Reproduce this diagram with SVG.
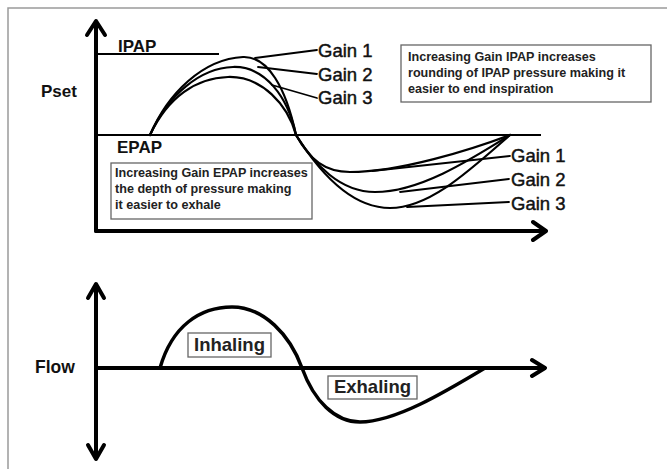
<svg xmlns="http://www.w3.org/2000/svg" width="667" height="469" viewBox="0 0 667 469">
<defs>
<style>
.frame{fill:none;stroke:#9a9a9a;stroke-width:1.5}
.axis{fill:none;stroke:#000;stroke-width:4;stroke-linecap:round;stroke-linejoin:round}
.lvl{fill:none;stroke:#000;stroke-width:2}
.crv{fill:none;stroke:#000;stroke-width:2.2;stroke-linecap:round}
.flow{fill:none;stroke:#000;stroke-width:3.5;stroke-linecap:round}
.lead{fill:none;stroke:#000;stroke-width:1.8;stroke-linecap:round}
.box{fill:#fff;stroke:#666;stroke-width:1.3}
.lbl{font-family:"Liberation Sans",Arial,sans-serif;font-weight:bold;font-size:17px;fill:#111}
.gain{font-family:"Liberation Sans",Arial,sans-serif;font-size:18.5px;fill:#111;stroke:#111;stroke-width:0.45}
.note{font-family:"Liberation Sans",Arial,sans-serif;font-weight:bold;font-size:12.6px;fill:#222}
.big{font-family:"Liberation Sans",Arial,sans-serif;font-weight:bold;font-size:18.5px;fill:#222}
</style>
</defs>
<rect width="667" height="469" fill="#fff"/>
<path class="frame" d="M8,469 V8 H667"/>

<g id="pressure-axes">
<path class="axis" d="M96,231 V22 M87,35 L96,21 L105,35"/>
<path class="axis" d="M96,231 H545 M533,222 L546,231 L533,240"/>
<path class="lvl" d="M96,54 H219"/>
<path class="lvl" d="M96,135 H541"/>
</g>

<g id="pressure-curves">
<path class="crv" d="M150,135 C168,93 203,59 243,57 C268,56 286,88 296,135"/>
<path class="crv" d="M150,135 C168,95 200,68 233,67 C265,66 288,97 296,135"/>
<path class="crv" d="M150,135 C168,97 196,78 228,77 C262,76 288,105 296,135"/>
<path class="crv" d="M296,135 C310,160 325,172 350,172 C400,172 470,150 510,135"/>
<path class="crv" d="M296,135 C315,165 340,192 375,192 C420,192 470,160 510,135"/>
<path class="crv" d="M296,135 C318,170 350,208 390,208 C430,208 470,170 510,135"/>
</g>

<g id="connectors">
<line class="lead" x1="255" y1="58" x2="317" y2="50"/>
<line class="lead" x1="258" y1="67" x2="317" y2="74"/>
<line class="lead" x1="272" y1="85" x2="317" y2="98"/>
<line class="lead" x1="372" y1="171" x2="510" y2="156"/>
<line class="lead" x1="400" y1="192" x2="509" y2="179"/>
<line class="lead" x1="407" y1="207" x2="509" y2="202"/>
</g>

<g id="label-pset"><text class="lbl" x="41" y="97">Pset</text></g>
<g id="label-ipap"><text class="lbl" x="118" y="52">IPAP</text></g>
<g id="label-epap"><text class="lbl" x="117" y="153">EPAP</text></g>

<g id="gain-ipap">
<text class="gain" x="318" y="57">Gain 1</text>
<text class="gain" x="318" y="81">Gain 2</text>
<text class="gain" x="318" y="104">Gain 3</text>
</g>
<g id="gain-epap">
<text class="gain" x="511" y="162">Gain 1</text>
<text class="gain" x="511" y="186">Gain 2</text>
<text class="gain" x="511" y="210">Gain 3</text>
</g>

<g id="note-ipap">
<rect class="box" x="401" y="45" width="250" height="57"/>
<text class="note" x="408" y="61">Increasing Gain IPAP increases</text>
<text class="note" x="408" y="77">rounding of IPAP pressure making it</text>
<text class="note" x="408" y="93">easier to end inspiration</text>
</g>

<g id="note-epap">
<rect class="box" x="111" y="163" width="201" height="56"/>
<text class="note" x="115" y="177">Increasing Gain EPAP increases</text>
<text class="note" x="115" y="193">the depth of pressure making</text>
<text class="note" x="115" y="209">it easier to exhale</text>
</g>

<g id="flow-axes">
<path class="axis" d="M96,285 V458 M88,298 L96,284 L104,298 M88,445 L96,459 L104,445"/>
<path class="axis" d="M96,368 H544 M532,360 L545,368 L532,376"/>
</g>

<g id="flow-curve">
<path class="flow" d="M160,368 C172,326 200,307 232,307 C264,307 290,335 302,368 C314,401 335,422 360,422 C395,422 445,392 485,368"/>
</g>

<g id="label-flow"><text class="lbl" x="35" y="373" style="font-size:17.5px">Flow</text></g>

<g id="label-inhaling">
<rect class="box" x="188" y="333" width="83" height="24"/>
<text class="big" x="229.5" y="351" text-anchor="middle">Inhaling</text>
</g>
<g id="label-exhaling">
<rect class="box" x="328" y="376" width="89" height="23"/>
<text class="big" x="372.5" y="393" text-anchor="middle">Exhaling</text>
</g>
</svg>
